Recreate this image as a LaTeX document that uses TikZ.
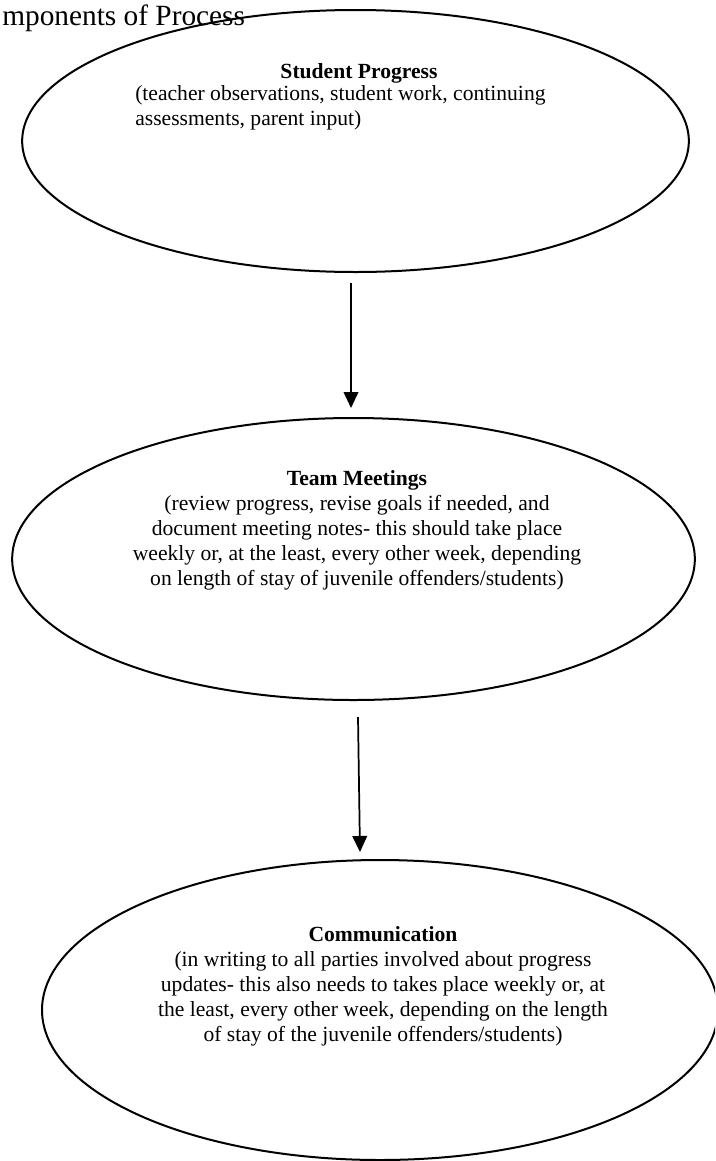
\documentclass[tikz,border=0pt]{standalone}
\usepackage{fontspec}
\setmainfont{Liberation Serif}
\usetikzlibrary{positioning,shapes.geometric,arrows.meta}

\begin{document}
\begin{tikzpicture}[x=0.75pt,y=-0.75pt,
    every node/.style={inner sep=0pt},
    bubble/.style={draw,ellipse,line width=1.5pt},
    body/.style={font=\fontsize{16.2}{18.75}\selectfont,align=center},
    flow/.style={line width=1.3pt,-{Triangle[width=11pt,length=12pt]}}
    ]
    \clip (0,0) rectangle (715,1161);

    \node (ttl) [anchor=base west,font=\fontsize{22}{26}\selectfont] at (2,25) {mponents of Process};

    \node (sp) [bubble,minimum width=500pt,minimum height=196.5pt] at (355.5,141) {};
    \node (tm) [bubble,minimum width=512pt,minimum height=211.5pt] at (353.5,559) {};
    \node (cm) [bubble,minimum width=507pt,minimum height=225pt] at (380,1010) {};

    \node (sptitle) [body] at (359,73) {\textbf{Student Progress}};
    \node (spbody) [body,align=left,anchor=west] at (135,108) {(teacher observations, student work, continuing\\assessments, parent input)};
    \node (tmtext) [body] at (357,530) {\textbf{Team Meetings}\\(review progress, revise goals if needed, and\\document meeting notes- this should take place\\weekly or, at the least, every other week, depending\\on length of stay of juvenile offenders/students)};
    \node (cmtext) [body] at (383,986) {\textbf{Communication}\\(in writing to all parties involved about progress\\updates- this also needs to takes place weekly or, at\\the least, every other week, depending on the length\\of stay of the juvenile offenders/students)};

    % the edges
    \draw[flow] ([shift={(-4.5,10)}]sp.south) -- ([shift={(-2.5,-9)}]tm.north);
    \draw[flow] ([shift={(4.5,16)}]tm.south) -- ([shift={(-20,-7)}]cm.north);
\end{tikzpicture}
\end{document}
